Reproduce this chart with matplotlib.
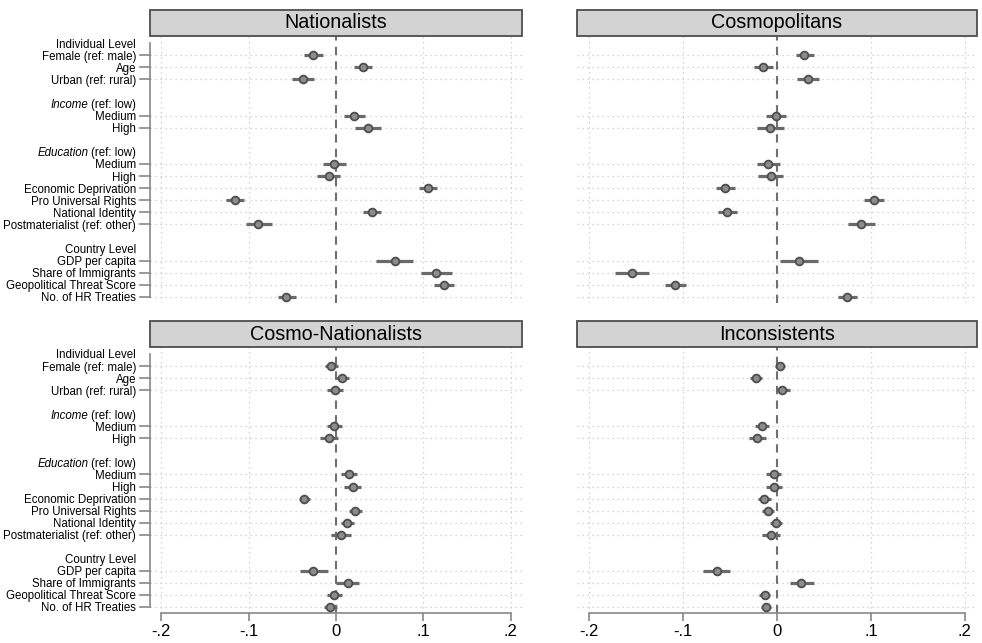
import numpy as np
import matplotlib.pyplot as plt
from matplotlib.patches import Rectangle

plt.rcParams['font.family'] = ['Liberation Sans', 'DejaVu Sans']

# row labels, top to bottom (None marks a blank row)
rows = ["Individual Level", "Female (ref: male)", "Age", "Urban (ref: rural)", None,
        "(ref: low)", "Medium", "High", None,
        "(ref: low)", "Medium", "High", "Economic Deprivation",
        "Pro Universal Rights", "National Identity", "Postmaterialist (ref: other)", None,
        "Country Level", "GDP per capita", "Share of Immigrants",
        "Geopolitical Threat Score", "No. of HR Treaties"]
italic_words = {5: "Income", 9: "Education"}
coef_rows = [1, 2, 3, 6, 7, 10, 11, 12, 13, 14, 15, 18, 19, 20, 21]
label_rows = [i for i, r in enumerate(rows) if r is not None]

titles = ["Nationalists", "Cosmopolitans", "Cosmo-Nationalists", "Inconsistents"]

nat_b = [-0.0267, 0.0309, -0.0378, 0.0210, 0.0366, -0.0019, -0.0084, 0.1050,
         -0.1156, 0.0412, -0.0889, 0.0671, 0.1148, 0.1236, -0.0568]
nat_lo = [-0.0362, 0.0202, -0.0500, 0.0088, 0.0217, -0.0153, -0.0221, 0.0946,
          -0.1260, 0.0305, -0.1030, 0.0462, 0.0976, 0.1125, -0.0660]
nat_hi = [-0.0153, 0.0412, -0.0248, 0.0332, 0.0511, 0.0110, 0.0050, 0.1156,
          -0.1050, 0.0515, -0.0736, 0.0880, 0.1327, 0.1354, -0.0458]

cos_b = [0.0292, -0.0146, 0.0328, -0.0011, -0.0075, -0.0093, -0.0068, -0.0549,
         0.1034, -0.0531, 0.0898, 0.0235, -0.1540, -0.1087, 0.0749]
cos_lo = [0.0203, -0.0250, 0.0214, -0.0121, -0.0214, -0.0214, -0.0200, -0.0645,
          0.0927, -0.0627, 0.0752, 0.0036, -0.1725, -0.1198, 0.0649]
cos_hi = [0.0392, -0.0046, 0.0449, 0.0100, 0.0071, 0.0029, 0.0064, -0.0449,
          0.1137, -0.0431, 0.1048, 0.0435, -0.1358, -0.0973, 0.0852]

cn_b = [-0.0061, 0.0069, -0.0015, -0.0023, -0.0084, 0.0153, 0.0191, -0.0363,
        0.0221, 0.0130, 0.0053, -0.0263, 0.0134, -0.0019, -0.0065]
cn_lo = [-0.0130, -0.0008, -0.0103, -0.0107, -0.0187, 0.0057, 0.0095, -0.0427,
         0.0145, 0.0053, -0.0053, -0.0416, 0.0004, -0.0099, -0.0134]
cn_hi = [0.0019, 0.0149, 0.0076, 0.0065, 0.0023, 0.0244, 0.0286, -0.0294,
         0.0298, 0.0210, 0.0168, -0.0095, 0.0267, 0.0065, 0.0011]

inc_b = [0.0029, -0.0228, 0.0057, -0.0164, -0.0214, -0.0032, -0.0036, -0.0135,
         -0.0093, -0.0007, -0.0064, -0.0642, 0.0260, -0.0132, -0.0118]
inc_lo = [-0.0021, -0.0292, -0.0011, -0.0239, -0.0299, -0.0114, -0.0121, -0.0203,
          -0.0157, -0.0075, -0.0157, -0.0784, 0.0135, -0.0193, -0.0175]
inc_hi = [0.0086, -0.0157, 0.0135, -0.0082, -0.0118, 0.0039, 0.0053, -0.0068,
          -0.0029, 0.0057, 0.0032, -0.0499, 0.0389, -0.0071, -0.0061]

series = [(nat_b, nat_lo, nat_hi), (cos_b, cos_lo, cos_hi),
          (cn_b, cn_lo, cn_hi), (inc_b, inc_lo, inc_hi)]

xticks = [-0.2, -0.1, 0, 0.1, 0.2]
xticklabels = ["-.2", "-.1", "0", ".1", ".2"]

W, H = 982, 643
fig = plt.figure(figsize=(W / 100, H / 100), dpi=100)

# panel boxes in pixels: left, top, right, bottom
boxes = [(150, 36, 522, 303), (577, 36, 977, 303),
         (150, 347, 522, 613), (577, 347, 977, 613)]
head_h = 26
lab_size = 8.3
label_axes = []

for k, (l, t, r, b) in enumerate(boxes):
    ax = fig.add_axes([l / W, 1 - b / H, (r - l) / W, (b - t) / H])
    est, lo, hi = series[k]
    y = np.array(coef_rows)

    for v in [-0.2, -0.1, 0.1, 0.2]:
        ax.axvline(v, color="#c8c8c8", lw=0.9, ls=(0, (1, 3)), zorder=0)
    for yy in coef_rows:
        ax.axhline(yy, color="#c8c8c8", lw=0.9, ls=(0, (1, 3)), zorder=0)
    ax.axvline(0, color="#707070", lw=1.5, ls=(0, (4, 3)), zorder=1)

    ax.hlines(y, lo, hi, color="#6a6a6a", lw=2.3, zorder=2)
    ax.plot(est, y, "o", ms=5.6, mfc="#8c8c8c", mec="#4e4e4e", mew=1.3, zorder=3)

    ax.set_xlim(-0.213, 0.213)
    ax.set_ylim(21.5, -0.58)

    for s in ["top", "right"]:
        ax.spines[s].set_visible(False)

    if k % 2 == 0:
        ax.spines["left"].set_bounds(0, 21)
        ax.spines["left"].set_color("#888888")
        ax.spines["left"].set_linewidth(1.2)
        ax.set_yticks(label_rows)
        ax.set_yticklabels([rows[i] for i in label_rows], fontsize=lab_size)
        ax.tick_params(axis="y", length=0, pad=10)
        # small tick dashes only at coefficient rows
        for yy in coef_rows:
            ax.plot([-0.213 - 0.011, -0.213], [yy, yy], color="#888888", lw=1.2,
                    clip_on=False, zorder=4)
        label_axes.append(ax)
    else:
        ax.spines["left"].set_visible(False)
        ax.set_yticks([])

    if k >= 2:
        ax.spines["bottom"].set_bounds(-0.2, 0.2)
        ax.spines["bottom"].set_color("#888888")
        ax.spines["bottom"].set_linewidth(1.2)
        ax.set_xticks(xticks)
        ax.set_xticklabels(xticklabels, fontsize=12)
        ax.tick_params(axis="x", length=6, width=1.2, color="#888888", pad=2)
    else:
        ax.spines["bottom"].set_visible(False)
        ax.set_xticks([])

    # header strip
    fig.patches.append(Rectangle((l / W, 1 - t / H), (r - l) / W, head_h / H,
                                 transform=fig.transFigure, facecolor="#d3d3d3",
                                 edgecolor="#4d4d4d", lw=1.3))
    fig.text((l + r) / 2 / W, 1 - (t - head_h / 2) / H, titles[k], ha="center",
             va="center", fontsize=14.2)

# italic group words in front of "(ref: low)"
fig.canvas.draw()
renderer = fig.canvas.get_renderer()
for ax in label_axes:
    for tl in ax.get_yticklabels():
        row = int(round(tl.get_position()[1]))
        if row in italic_words:
            bb = tl.get_window_extent(renderer)
            x_px = bb.x0 - 2.5
            y_px = (bb.y0 + bb.y1) / 2
            fig.text(x_px / W, y_px / H, italic_words[row], ha="right", va="center",
                     fontsize=lab_size, style="italic")

fig.savefig("out.png", dpi=100)
